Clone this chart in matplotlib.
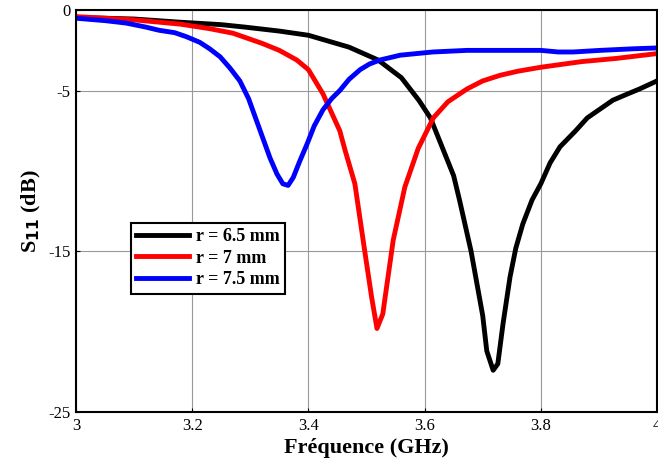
import matplotlib
matplotlib.use("Agg")
from matplotlib import pyplot as plt

# frequences (GHz) et S11 (dB)
f_65 = [3.0, 3.1, 3.18, 3.25, 3.29, 3.35, 3.4, 3.47, 3.52, 3.56, 3.59, 3.61, 3.63,
        3.65, 3.66, 3.68, 3.69, 3.70, 3.707, 3.718, 3.726, 3.735, 3.747, 3.757,
        3.769, 3.785, 3.80, 3.816, 3.833, 3.86, 3.88, 3.90, 3.924, 3.95, 3.97, 4.0]
s_65 = [-0.45, -0.55, -0.75, -0.9, -1.05, -1.3, -1.56, -2.3, -3.1, -4.2, -5.6, -6.7, -8.5,
        -10.3, -11.8, -15.0, -17.0, -19.0, -21.2, -22.4, -22.0, -19.5, -16.6, -14.8,
        -13.3, -11.8, -10.8, -9.5, -8.5, -7.5, -6.7, -6.2, -5.6, -5.2, -4.9, -4.4]

f_7 = [3.0, 3.1, 3.18, 3.23, 3.27, 3.32, 3.35, 3.38, 3.40, 3.425, 3.454, 3.463, 3.48, 3.497,
       3.509, 3.518, 3.528, 3.546, 3.566, 3.589, 3.615, 3.64, 3.673, 3.70, 3.73,
       3.76, 3.80, 3.87, 3.93, 4.0]
s_7 = [-0.4, -0.6, -0.87, -1.15, -1.43, -2.06, -2.5, -3.1, -3.7, -5.2, -7.5, -8.7, -10.8, -15.0,
       -17.9, -19.8, -18.9, -14.3, -11.0, -8.6, -6.7, -5.7, -4.9, -4.4, -4.05,
       -3.8, -3.55, -3.2, -3.0, -2.7]

f_75 = [3.0, 3.05, 3.086, 3.12, 3.143, 3.17, 3.19, 3.213, 3.23, 3.248, 3.265, 3.282,
        3.297, 3.311, 3.323, 3.334, 3.346, 3.356, 3.365, 3.374, 3.385, 3.398, 3.41,
        3.425, 3.44, 3.454, 3.47, 3.489, 3.505, 3.523, 3.558, 3.614, 3.673, 3.80,
        3.83, 3.856, 3.902, 3.96, 4.0]
s_75 = [-0.5, -0.65, -0.8, -1.05, -1.25, -1.4, -1.65, -2.0, -2.4, -2.9, -3.6, -4.4,
        -5.5, -6.9, -8.1, -9.2, -10.2, -10.8, -10.9, -10.4, -9.4, -8.3, -7.2,
        -6.2, -5.5, -5.0, -4.3, -3.7, -3.35, -3.1, -2.8, -2.6, -2.5, -2.5,
        -2.6, -2.6, -2.5, -2.4, -2.35]

plt.rcParams['font.family'] = ['Liberation Serif', 'DejaVu Serif']

fig = plt.figure(figsize=(6.58, 4.63), dpi=100)
ax = fig.add_axes([0.1155, 0.110, 0.883, 0.868])

ax.plot(f_65, s_65, color='black', lw=3.5, label='r = 6.5 mm')
ax.plot(f_7, s_7, color='red', lw=3.5, label='r = 7 mm')
ax.plot(f_75, s_75, color='blue', lw=3.5, label='r = 7.5 mm')

ax.set_xlim(3, 4)
ax.set_ylim(-25, 0)
ax.set_xticks([3, 3.2, 3.4, 3.6, 3.8, 4])
ax.set_xticklabels(['3', '3.2', '3.4', '3.6', '3.8', '4'])
ax.set_yticks([-25, -15, -5, 0])
ax.set_yticklabels(['-25', '-15', '-5', '0'])
ax.tick_params(direction='in', length=3, labelsize=12, pad=4)
ax.grid(True, color='#999999', lw=0.8)
for s in ax.spines.values():
    s.set_linewidth(1.5)

ax.set_xlabel('Fréquence (GHz)', fontsize=16, fontweight='bold', labelpad=3)
ax.set_ylabel(r'S$_{\mathbf{11}}$ (dB)', fontsize=16, fontweight='bold', labelpad=4)

leg = ax.legend(loc='upper left', bbox_to_anchor=(0.0947, 0.471), borderaxespad=0,
                prop={'weight': 'bold', 'size': 13}, handlelength=2.9,
                handletextpad=0.4, fancybox=False, edgecolor='black',
                framealpha=1, labelspacing=0.25, borderpad=0.3)
leg.get_frame().set_linewidth(1.5)

plt.savefig('out.png', dpi=100)
